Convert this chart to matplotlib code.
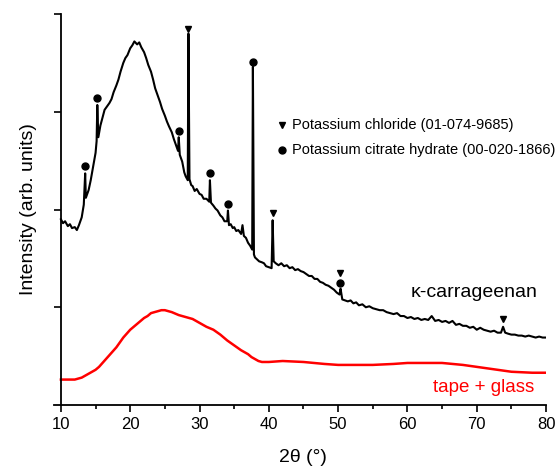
import numpy as np
import matplotlib.pyplot as plt

plt.rcParams['font.family'] = ['Liberation Sans', 'DejaVu Sans']

# kappa-carrageenan pattern (2theta, intensity in arb. units)
carr_x = [10.0, 10.3, 10.6, 11.0, 11.3, 11.6, 12.0, 12.3, 12.6, 13.0, 13.3, 13.5,
          13.6, 14.0, 14.3, 14.6, 15.0, 15.15, 15.25, 15.4, 15.7, 16.0, 16.3,
          16.6, 17.0, 17.3, 17.6, 18.0, 18.3, 18.6, 19.0, 19.3, 19.6, 20.0, 20.3,
          20.6, 21.0, 21.3, 21.6, 22.0, 22.3, 22.6, 23.0, 23.3, 23.6, 24.0, 24.3,
          24.6, 25.0, 25.3, 25.6, 26.0, 26.3, 26.6, 26.9, 27.0, 27.15, 27.5, 27.8,
          28.0, 28.3, 28.4, 28.55, 28.8, 29.0, 29.3, 29.6, 30.0, 30.3, 30.6, 31.0,
          31.4, 31.5, 31.65, 32.0, 32.3, 32.6, 33.0, 33.3, 33.6, 34.0, 34.1, 34.25,
          34.5, 34.8, 35.0, 35.3, 35.6, 36.0, 36.2, 36.4, 36.7, 37.0, 37.3, 37.6,
          37.7, 37.85, 38.0, 38.3, 38.6, 39.0, 39.3, 39.6, 40.0, 40.4, 40.55, 40.7,
          41.0, 41.4, 41.8, 42.2, 42.6, 43.0, 43.4, 43.8, 44.2, 44.6, 45.0, 45.4,
          45.8, 46.2, 46.6, 47.0, 47.4, 47.8, 48.2, 48.6, 49.0, 49.4, 49.8, 50.2,
          50.35, 50.6, 51.0, 51.4, 51.8, 52.2, 52.6, 53.0, 53.5, 54.0, 54.5, 55.0,
          55.5, 56.0, 56.5, 57.0, 57.5, 58.0, 58.5, 59.0, 59.5, 60.0, 60.5, 61.0,
          61.5, 62.0, 62.5, 63.0, 63.5, 64.0, 64.5, 65.0, 65.5, 66.0, 66.5, 67.0,
          67.5, 68.0, 68.5, 69.0, 69.5, 70.0, 70.5, 71.0, 71.5, 72.0, 72.5, 73.0,
          73.5, 73.8, 74.1, 74.5, 75.0, 75.5, 76.0, 76.5, 77.0, 77.5, 78.0, 78.5,
          79.0, 79.5, 80.0]
carr_y = [1.90, 1.86, 1.88, 1.83, 1.85, 1.81, 1.82, 1.79, 1.84, 1.92, 2.05, 2.37,
          2.12, 2.20, 2.30, 2.42, 2.58, 2.70, 3.07, 2.74, 2.86, 2.94, 3.02,
          3.05, 3.09, 3.13, 3.20, 3.27, 3.33, 3.41, 3.50, 3.55, 3.58, 3.65, 3.68,
          3.72, 3.69, 3.71, 3.66, 3.61, 3.55, 3.48, 3.41, 3.33, 3.24, 3.16, 3.10,
          3.03, 2.96, 2.90, 2.85, 2.79, 2.72, 2.66, 2.60, 2.74, 2.56, 2.49, 2.38,
          2.34, 2.30, 3.80, 2.31, 2.25, 2.24, 2.19, 2.21, 2.16, 2.15, 2.11, 2.11,
          2.08, 2.30, 2.07, 2.04, 2.01, 1.99, 1.94, 1.92, 1.88, 1.88, 1.99, 1.84,
          1.85, 1.81, 1.82, 1.78, 1.79, 1.75, 1.84, 1.73, 1.71, 1.66, 1.63, 1.59,
          3.46, 1.54, 1.51, 1.49, 1.47, 1.46, 1.45, 1.42, 1.41, 1.40, 1.89, 1.47,
          1.45, 1.43, 1.45, 1.42, 1.43, 1.40, 1.41, 1.38, 1.39, 1.37, 1.36, 1.34,
          1.32, 1.32, 1.29, 1.29, 1.26, 1.25, 1.23, 1.22, 1.20, 1.18, 1.15, 1.13,
          1.19, 1.08, 1.07, 1.06, 1.07, 1.04, 1.05, 1.02, 1.03, 1.00, 1.01, 0.99,
          0.98, 0.97, 0.97, 0.95, 0.94, 0.93, 0.94, 0.91, 0.91, 0.89, 0.90, 0.88,
          0.89, 0.87, 0.88, 0.87, 0.91, 0.86, 0.87, 0.85, 0.86, 0.84, 0.86, 0.82,
          0.83, 0.81, 0.81, 0.79, 0.80, 0.77, 0.79, 0.77, 0.76, 0.75, 0.76, 0.74,
          0.74, 0.80, 0.74, 0.73, 0.72, 0.72, 0.71, 0.71, 0.70, 0.71, 0.70, 0.69,
          0.70, 0.69, 0.69]

# tape + glass background
tape_x = [10, 11, 12, 13, 14, 15, 15.5, 16, 16.5, 17, 17.5, 18, 18.5, 19, 19.5,
          20, 20.5, 21, 21.5, 22, 22.5, 23, 23.5, 24, 24.5, 25, 25.5, 26, 27,
          28, 29, 30, 31, 32, 33, 34, 35, 36, 37, 37.5, 38, 38.5, 39, 40, 42,
          45, 48, 50, 53, 55, 58, 60, 63, 65, 68, 70, 72, 75, 78, 80]
tape_y = [0.26, 0.26, 0.26, 0.28, 0.32, 0.36, 0.39, 0.43, 0.47, 0.51, 0.55,
          0.59, 0.64, 0.69, 0.73, 0.77, 0.80, 0.83, 0.86, 0.89, 0.91, 0.94,
          0.95, 0.96, 0.97, 0.97, 0.96, 0.95, 0.92, 0.90, 0.88, 0.84, 0.80,
          0.77, 0.72, 0.66, 0.61, 0.56, 0.52, 0.49, 0.47, 0.45, 0.44, 0.44,
          0.45, 0.44, 0.42, 0.41, 0.41, 0.41, 0.42, 0.43, 0.43, 0.43, 0.41,
          0.39, 0.37, 0.34, 0.33, 0.33]

# phase markers (position, height above pattern)
kcl_x = [28.4, 40.6, 50.3, 73.8]
kcl_y = [3.85, 1.96, 1.35, 0.88]
citrate_x = [13.5, 15.2, 27.0, 31.5, 34.1, 37.7, 50.3]
citrate_y = [2.45, 3.14, 2.80, 2.37, 2.06, 3.51, 1.25]

fig = plt.figure(figsize=(5.56, 4.69), dpi=100)
ax = fig.add_axes([0.0971, 0.1365, 0.885, 0.8335])

ax.plot(carr_x, carr_y, color='black', lw=1.5)
ax.plot(tape_x, tape_y, color='red', lw=1.8)

ax.plot(kcl_x, kcl_y, 'v', color='black', ms=5)
ax.plot(citrate_x, citrate_y, 'o', color='black', ms=5)

# legend for the markers
ax.plot([41.9], [2.87], 'v', color='black', ms=5)
ax.plot([41.9], [2.61], 'o', color='black', ms=5)
ax.text(43.4, 2.87, 'Potassium chloride (01-074-9685)', fontsize=10.5, va='center')
ax.text(43.4, 2.61, 'Potassium citrate hydrate (00-020-1866)', fontsize=10.5, va='center')

ax.text(78.7, 1.15, '\u03ba-carrageenan', fontsize=14, ha='right', va='center')
ax.text(78.3, 0.18, 'tape + glass', fontsize=13.5, ha='right', va='center', color='red')

ax.set_xlim(9, 80)
ax.set_ylim(0, 4)
ax.spines['left'].set_position(('data', 10))
ax.spines['top'].set_visible(False)
ax.spines['right'].set_visible(False)
for s in ['left', 'bottom']:
    ax.spines[s].set_linewidth(1.3)

ax.set_xticks(np.arange(10, 81, 10))
ax.set_xticks(np.arange(15, 80, 10), minor=True)
ax.set_yticks([1, 2, 3, 4])
ax.set_yticklabels([])
ax.tick_params(axis='both', which='major', direction='out', length=5, width=1.2, labelsize=12)
ax.tick_params(axis='x', which='minor', direction='out', length=3, width=1.2)

ax.set_xlabel('2\u03b8 (\u00b0)', fontsize=14)
ax.set_ylabel('Intensity (arb. units)', fontsize=14)
ax.xaxis.set_label_coords(0.506, -0.112)
ax.yaxis.set_label_coords(-0.035, 0.5)

fig.savefig('out.png', dpi=100)
